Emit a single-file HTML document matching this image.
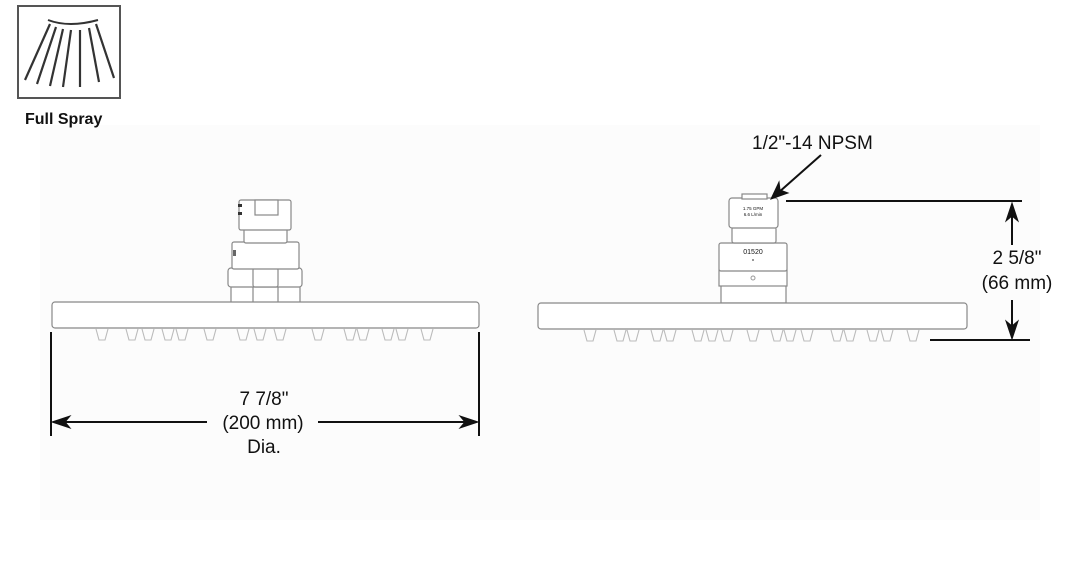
<!DOCTYPE html>
<html><head><meta charset="utf-8"><style>
html,body{margin:0;padding:0;background:#fff;}
svg{display:block;}
text{font-family:"Liberation Sans",Arial,sans-serif;fill:#111;}
</style></head><body>
<svg width="1092" height="565" viewBox="0 0 1092 565" xmlns="http://www.w3.org/2000/svg">
<rect width="1092" height="565" fill="#fff"/>
<rect x="40" y="125" width="1000" height="395" fill="#fcfcfc"/>
<!-- icon -->
<rect x="18" y="6" width="102" height="92" fill="none" stroke="#555" stroke-width="2"/>
<path d="M48 20 Q69 28 98 20" fill="none" stroke="#333" stroke-width="2"/>
<g stroke="#333" stroke-width="2.2" fill="none">
<line x1="50" y1="24" x2="25" y2="80"/>
<line x1="56" y1="27" x2="37" y2="84"/>
<line x1="63" y1="29" x2="50" y2="86"/>
<line x1="71" y1="30" x2="63" y2="87"/>
<line x1="80" y1="30" x2="80" y2="87"/>
<line x1="89" y1="28" x2="99" y2="82"/>
<line x1="96" y1="24" x2="114" y2="78"/>
</g>
<text x="25" y="124" font-size="16" font-weight="bold">Full Spray</text>

<g fill="#fff" stroke="#888" stroke-width="1.2">
<!-- left head -->
<rect x="231" y="286" width="69" height="17"/>
<line x1="253" y1="286" x2="253" y2="303"/><line x1="278" y1="286" x2="278" y2="303"/>
<rect x="228" y="268" width="74" height="19" rx="3"/>
<rect x="253" y="268" width="25" height="19" rx="2"/>
<rect x="232" y="242" width="67" height="27" rx="2"/>
<rect x="244" y="228" width="43" height="15" rx="2"/>
<rect x="239" y="200" width="52" height="30" rx="2"/>
<rect x="255" y="200" width="23" height="15"/>
<rect x="52" y="302" width="427" height="26" rx="3"/>
<!-- right head -->
<rect x="721" y="285" width="65" height="18"/>
<rect x="719" y="270" width="68" height="16"/>
<rect x="719" y="243" width="68" height="28" rx="2"/>
<rect x="732" y="227" width="44" height="16" rx="2"/>
<rect x="729" y="198" width="49" height="30" rx="3"/>
<rect x="742" y="194" width="25" height="5"/>
<rect x="538" y="303" width="429" height="26" rx="3"/>
</g>
<rect x="238" y="204" width="4" height="3" fill="#333"/><rect x="238" y="212" width="4" height="3" fill="#333"/>
<rect x="233" y="250" width="3" height="6" fill="#666"/>
<text x="753" y="210" font-size="4.5" text-anchor="middle" fill="#555">1.75 GPM</text>
<text x="753" y="216" font-size="4.5" text-anchor="middle" fill="#555">6.6 L/min</text>
<text x="753" y="254" font-size="7" text-anchor="middle" fill="#777">01520</text>
<circle cx="753" cy="260" r="1" fill="#777"/>
<circle cx="753" cy="278" r="2" fill="none" stroke="#999"/>

<!-- nozzles -->
<g fill="none" stroke="#bbb" stroke-width="1.1">
<path d="M96 329 l3 11 h6 l3 -11 M126 329 l3 11 h6 l3 -11 M142 329 l3 11 h6 l3 -11 M162 329 l3 11 h6 l3 -11 M176 329 l3 11 h6 l3 -11 M204 329 l3 11 h6 l3 -11 M237 329 l3 11 h6 l3 -11 M254 329 l3 11 h6 l3 -11 M274 329 l3 11 h6 l3 -11 M312 329 l3 11 h6 l3 -11 M344 329 l3 11 h6 l3 -11 M357 329 l3 11 h6 l3 -11 M382 329 l3 11 h6 l3 -11 M396 329 l3 11 h6 l3 -11 M421 329 l3 11 h6 l3 -11"/>
<path d="M584 330 l3 11 h6 l3 -11 M614 330 l3 11 h6 l3 -11 M627 330 l3 11 h6 l3 -11 M651 330 l3 11 h6 l3 -11 M664 330 l3 11 h6 l3 -11 M692 330 l3 11 h6 l3 -11 M706 330 l3 11 h6 l3 -11 M721 330 l3 11 h6 l3 -11 M747 330 l3 11 h6 l3 -11 M771 330 l3 11 h6 l3 -11 M784 330 l3 11 h6 l3 -11 M801 330 l3 11 h6 l3 -11 M831 330 l3 11 h6 l3 -11 M844 330 l3 11 h6 l3 -11 M867 330 l3 11 h6 l3 -11 M881 330 l3 11 h6 l3 -11 M907 330 l3 11 h6 l3 -11"/>
</g>

<!-- width dimension -->
<g stroke="#111" stroke-width="2" fill="#111">
<line x1="51" y1="332" x2="51" y2="436"/>
<line x1="479" y1="332" x2="479" y2="436"/>
<line x1="55" y1="422" x2="207" y2="422"/>
<line x1="318" y1="422" x2="475" y2="422"/>
<path d="M52 422 L70 416 L65 422 L70 428 Z" stroke-width="1"/>
<path d="M478 422 L460 416 L465 422 L460 428 Z" stroke-width="1"/>
</g>
<text x="264" y="405" font-size="19" text-anchor="middle">7 7/8"</text>
<text x="263" y="429" font-size="19" text-anchor="middle">(200 mm)</text>
<text x="264" y="453" font-size="19" text-anchor="middle">Dia.</text>

<!-- height dimension -->
<g stroke="#111" stroke-width="2" fill="#111">
<line x1="786" y1="201" x2="1022" y2="201"/>
<line x1="930" y1="340" x2="1030" y2="340"/>
<line x1="1012" y1="210" x2="1012" y2="245"/>
<line x1="1012" y1="300" x2="1012" y2="332"/>
<path d="M1012 203 L1006 221 L1012 216 L1018 221 Z" stroke-width="1"/>
<path d="M1012 339 L1006 321 L1012 326 L1018 321 Z" stroke-width="1"/>
<line x1="821" y1="155" x2="778" y2="193"/>
<path d="M771 199 L779 182 L780 190 L788 193 Z" stroke-width="1"/>
</g>
<text x="1017" y="264" font-size="19" text-anchor="middle">2 5/8"</text>
<text x="1017" y="289" font-size="19" text-anchor="middle">(66 mm)</text>
<text x="752" y="149" font-size="19">1/2"-14 NPSM</text>
</svg>
</body></html>
